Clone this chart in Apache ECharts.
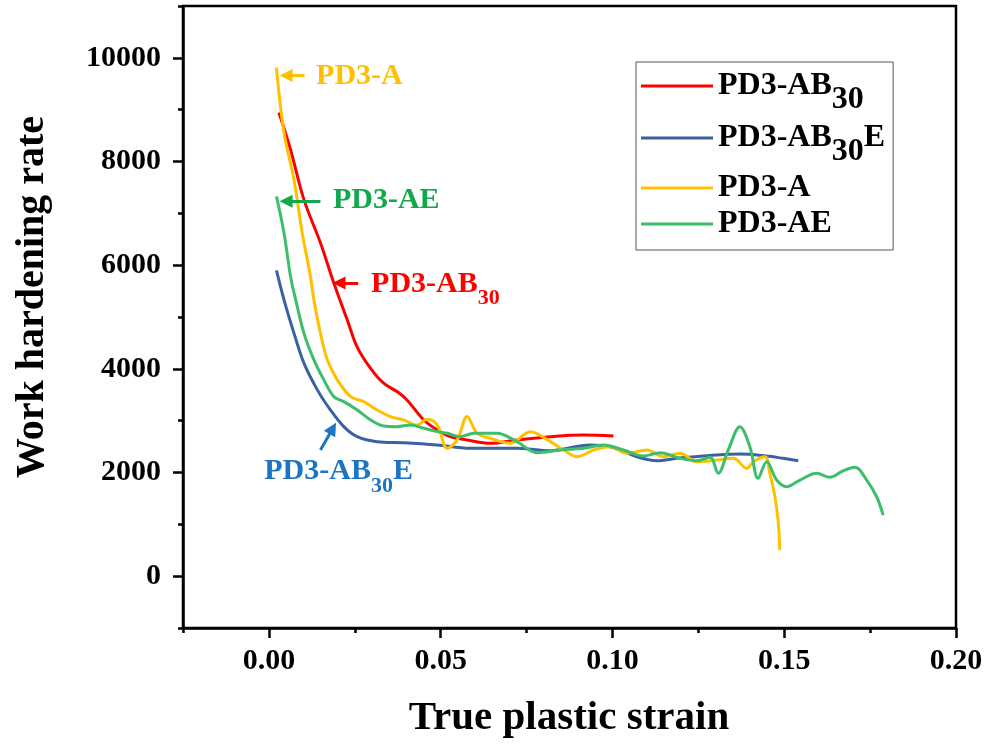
<!DOCTYPE html>
<html>
<head>
<meta charset="utf-8">
<script src="https://cdn.jsdelivr.net/npm/echarts@6/dist/echarts.min.js"></script>
<style>
  html, body { margin: 0; padding: 0; background: #fff; }
  #chart { width: 987px; height: 744px; }
</style>
</head>
<body>
<div id="chart"></div>
<script>
// Work hardening rate vs. true plastic strain for four alloy conditions.
const seriesNames = ['PD3-AB30', 'PD3-AB30E', 'PD3-A', 'PD3-AE'];

const strainAB30 = [0.0029, 0.0063, 0.0102, 0.0150, 0.0189, 0.0228, 0.0257, 0.0296, 0.0334, 0.0373, 0.0402, 0.0451, 0.0490, 0.0528, 0.0577, 0.0644, 0.0722, 0.0819, 0.0916, 0.1003];
const rateAB30   = [8945, 8230, 7264, 6433, 5655, 4946, 4420, 4010, 3723, 3561, 3400, 3014, 2821, 2691, 2628, 2564, 2628, 2691, 2724, 2705];

const strainAB30E = [0.0022, 0.0044, 0.0073, 0.0102, 0.0141, 0.0179, 0.0218, 0.0257, 0.0315, 0.0392, 0.0490, 0.0586, 0.0722, 0.0819, 0.0935, 0.0993, 0.1071, 0.1129, 0.1187, 0.1265, 0.1372, 0.1449, 0.1497, 0.1541];
const rateAB30E   = [5898, 5332, 4689, 4109, 3594, 3207, 2885, 2691, 2595, 2575, 2531, 2467, 2467, 2421, 2531, 2498, 2305, 2228, 2273, 2318, 2357, 2318, 2273, 2228];

const strainA = [0.0022, 0.0044, 0.0073, 0.0097, 0.0121, 0.0131, 0.0150, 0.0170, 0.0199, 0.0238, 0.0276, 0.0315, 0.0354, 0.0392, 0.0431, 0.0460, 0.0490, 0.0519, 0.0548, 0.0577, 0.0606, 0.0644, 0.0703, 0.0761, 0.0819, 0.0858, 0.0897, 0.0945, 0.0993, 0.1042, 0.1100, 0.1148, 0.1197, 0.1245, 0.1304, 0.1352, 0.1391, 0.1410, 0.1444, 0.1458, 0.1473, 0.1483, 0.1487];
const rateA   = [9809, 8553, 7651, 6621, 5783, 5332, 4689, 4173, 3787, 3464, 3367, 3207, 3078, 3014, 2917, 3027, 2917, 2467, 2628, 3078, 2757, 2660, 2564, 2788, 2595, 2434, 2305, 2434, 2498, 2370, 2434, 2305, 2370, 2208, 2241, 2273, 2080, 2208, 2305, 1984, 1532, 1018, 502];

const strainAE = [0.0022, 0.0044, 0.0063, 0.0078, 0.0102, 0.0131, 0.0160, 0.0189, 0.0218, 0.0257, 0.0296, 0.0334, 0.0373, 0.0412, 0.0451, 0.0490, 0.0519, 0.0557, 0.0596, 0.0664, 0.0722, 0.0780, 0.0848, 0.0916, 0.0974, 0.1032, 0.1090, 0.1139, 0.1197, 0.1245, 0.1284, 0.1308, 0.1337, 0.1371, 0.1400, 0.1424, 0.1449, 0.1478, 0.1507, 0.1546, 0.1594, 0.1633, 0.1672, 0.1706, 0.1740, 0.1769, 0.1788];
const rateAE   = [7328, 6621, 5783, 5332, 4689, 4173, 3787, 3464, 3367, 3207, 3014, 2898, 2885, 2917, 2853, 2788, 2757, 2691, 2757, 2757, 2595, 2382, 2434, 2467, 2531, 2434, 2318, 2382, 2273, 2228, 2292, 1984, 2434, 2885, 2498, 1888, 2208, 1855, 1725, 1855, 1984, 1907, 2034, 2100, 1855, 1532, 1178];

// Axis ticks and labels
const xMajorTicks = [0, 0.05, 0.10, 0.15, 0.20];
const xMinorTicks = [-0.025, 0.025, 0.075, 0.125, 0.175];
const yMajorTicks = [0, 2000, 4000, 6000, 8000, 10000];
const yMinorTicks = [-1000, 1000, 3000, 5000, 7000, 9000, 11000];

// Callout arrows: [tail strain, tail rate, head strain, head rate]
const arrowA     = [0.0104, 9660, 0.0050, 9660];
const arrowAE    = [0.0150, 7232, 0.0050, 7232];
const arrowAB30  = [0.0260, 5655, 0.0204, 5655];
const arrowAB30E = [0.0150, 2434, 0.0186, 2850];
// Callout text anchors (left edge, vertical middle)
const textA     = [0.0136, 9640];
const textAE    = [0.0185, 7250];
const textAB30  = [0.0296, 5641];
const textAB30E = [-0.0015, 2029];

const FONT = '"Times New Roman", "Liberation Serif", serif';
const zip = (xs, ys) => xs.map((x, i) => [x, ys[i]]);

// Turn "30" in a sample name into a subscript
function richName(name, main, sub) {
  const i = name.indexOf('30');
  if (i < 0) return '{' + main + '|' + name + '}';
  const head = name.slice(0, i), tail = name.slice(i + 2);
  return '{' + main + '|' + head + '}{' + sub + '|30}' + (tail ? '{' + main + '|' + tail + '}' : '');
}

const calloutRich = {
  m: { fontSize: 30, fontWeight: 'bold', fontFamily: FONT, lineHeight: 30, verticalAlign: 'middle' },
  s: { fontSize: 22, fontWeight: 'bold', fontFamily: FONT, lineHeight: 22, verticalAlign: 'top', padding: [19, 0, 0, 0] }
};

function callout(arrow, anchor, text, color) {
  return {
    markLine: {
      silent: true,
      animation: false,
      symbol: ['none', 'triangle'],
      symbolSize: 13,
      lineStyle: { color: color, width: 3, type: 'solid' },
      itemStyle: { color: color },
      label: { show: false },
      data: [[{ coord: [arrow[0], arrow[1]] }, { coord: [arrow[2], arrow[3]] }]]
    },
    markPoint: {
      silent: true,
      animation: false,
      symbol: 'circle',
      symbolSize: 1,
      itemStyle: { color: 'rgba(0,0,0,0)' },
      label: {
        show: true,
        position: 'right',
        distance: 0,
        color: color,
        formatter: richName(text, 'm', 's'),
        rich: JSON.parse(JSON.stringify(calloutRich))
      },
      data: [{ coord: anchor }]
    }
  };
}

function lineSeries(name, data, color, arrow, anchor, text, calloutColor) {
  return Object.assign({
    name: name,
    type: 'line',
    data: data,
    showSymbol: false,
    symbol: 'none',
    smooth: 0.35,
    lineStyle: { color: color, width: 3 },
    itemStyle: { color: color },
    xAxisIndex: 0,
    yAxisIndex: 0,
    z: 3
  }, callout(arrow, anchor, text, calloutColor));
}

const tickLabelStyle = { fontSize: 30, fontWeight: 'bold', fontFamily: FONT, color: '#000' };
const blackLine = { color: '#000', width: 2.5 };

const chart = echarts.init(document.getElementById('chart'), null, { renderer: 'canvas' });
chart.setOption({
  animation: false,
  backgroundColor: '#fff',
  grid: {
    left: 183, right: 31, top: 6, bottom: 116,
    show: true, borderColor: '#000', borderWidth: 2.5, backgroundColor: 'transparent',
    containLabel: false
  },
  xAxis: [
    {
      type: 'value', min: -0.025, max: 0.2, position: 'bottom',
      axisLine: { show: true, onZero: false, lineStyle: blackLine },
      axisTick: { show: true, customValues: xMajorTicks, length: 10, lineStyle: blackLine },
      axisLabel: Object.assign({ customValues: xMajorTicks, margin: 18, formatter: v => v.toFixed(2) }, tickLabelStyle),
      splitLine: { show: false }
    },
    {
      type: 'value', min: -0.025, max: 0.2, position: 'bottom',
      axisLine: { show: false, onZero: false },
      axisTick: { show: true, customValues: xMinorTicks, length: 5, lineStyle: blackLine },
      axisLabel: { show: false },
      splitLine: { show: false }
    }
  ],
  yAxis: [
    {
      type: 'value', min: -1000, max: 11000, position: 'left',
      axisLine: { show: true, onZero: false, lineStyle: blackLine },
      axisTick: { show: true, customValues: yMajorTicks, length: 10, lineStyle: blackLine },
      axisLabel: Object.assign({ customValues: yMajorTicks, margin: 22, formatter: v => String(v) }, tickLabelStyle),
      splitLine: { show: false }
    },
    {
      type: 'value', min: -1000, max: 11000, position: 'left',
      axisLine: { show: false, onZero: false },
      axisTick: { show: true, customValues: yMinorTicks, length: 5, lineStyle: blackLine },
      axisLabel: { show: false },
      splitLine: { show: false }
    }
  ],
  legend: {
    orient: 'vertical',
    left: 636, top: 62,
    data: seriesNames,
    icon: 'rect',
    itemWidth: 72,
    itemHeight: 3,
    itemGap: 4,
    padding: [6, 8, 10, 5],
    borderColor: '#555',
    borderWidth: 1,
    selectedMode: false,
    formatter: name => richName(name, 'm', 's'),
    textStyle: {
      color: '#000',
      fontFamily: FONT,
      fontWeight: 'bold',
      fontSize: 32,
      rich: {
        m: { fontSize: 32, fontWeight: 'bold', fontFamily: FONT, lineHeight: 36, verticalAlign: 'middle', color: '#000' },
        s: { fontSize: 32, fontWeight: 'bold', fontFamily: FONT, lineHeight: 32, verticalAlign: 'top', padding: [16, 0, 0, 0], color: '#000' }
      }
    }
  },
  graphic: [
    {
      type: 'text', x: 569, y: 718,
      style: { text: 'True plastic strain', font: 'bold 41px ' + FONT, fill: '#000', align: 'center', verticalAlign: 'middle' }
    },
    {
      type: 'text', x: 33, y: 297, rotation: Math.PI / 2,
      style: { text: 'Work hardening rate', font: 'bold 40px ' + FONT, fill: '#000', align: 'center', verticalAlign: 'middle' }
    }
  ],
  series: [
    lineSeries(seriesNames[0], zip(strainAB30, rateAB30), '#FF0000', arrowAB30, textAB30, 'PD3-AB30', '#FF0000'),
    lineSeries(seriesNames[1], zip(strainAB30E, rateAB30E), '#3A62A2', arrowAB30E, textAB30E, 'PD3-AB30E', '#1B74C4'),
    lineSeries(seriesNames[2], zip(strainA, rateA), '#FFC000', arrowA, textA, 'PD3-A', '#FFC000'),
    lineSeries(seriesNames[3], zip(strainAE, rateAE), '#3DBE6B', arrowAE, textAE, 'PD3-AE', '#11A84B')
  ]
});
</script>
</body>
</html>
